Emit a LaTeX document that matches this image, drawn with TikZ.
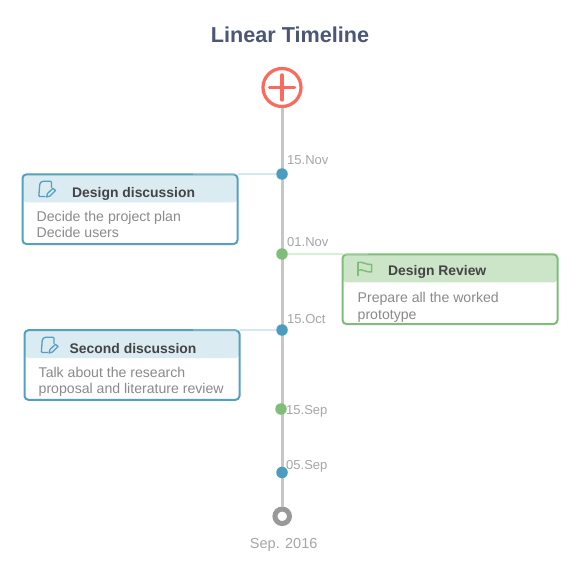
\documentclass[tikz,border=0pt]{standalone}
\usepackage{fontspec}
\setmainfont{Liberation Sans}
\definecolor{bluec}{HTML}{53A1C0}
\definecolor{bluedot}{HTML}{4A9DBE}
\definecolor{bluehead}{HTML}{DAEBF2}
\definecolor{blueline}{HTML}{D5E8F0}
\definecolor{greenc}{HTML}{7FBE78}
\definecolor{greenhead}{HTML}{CCE5C8}
\definecolor{greenline}{HTML}{D8EED6}
\definecolor{titlec}{HTML}{4C5778}
\definecolor{axisc}{HTML}{C6C6C6}
\definecolor{datec}{HTML}{A6A6A6}
\definecolor{bodyc}{HTML}{8A8A8A}
\definecolor{headc}{HTML}{444444}
\definecolor{redc}{HTML}{FB6A5E}
\definecolor{ringc}{HTML}{999999}
\tikzset{
  x=1pt,y=-1pt,
  dot/.style={circle,inner sep=0pt,minimum size=11.5pt,fill=#1},
  datelab/.style={anchor=base west,font=\fontsize{13}{15}\selectfont,text=datec,inner sep=0pt},
  cardbox/.style 2 args={draw=#1,line width=2pt,rounded corners=4pt,fill=white,inner sep=0pt,outer sep=0pt,
    minimum width=215pt,minimum height=69.7pt,
    path picture={\fill[#2] (path picture bounding box.north west) rectangle ([yshift=-28pt]path picture bounding box.north east);}},
  headlab/.style={anchor=base west,font=\fontsize{13.9}{16}\selectfont\bfseries,text=headc,inner sep=0pt},
  bodylab/.style={anchor=base west,font=\fontsize{14.1}{16}\selectfont,text=bodyc,inner sep=0pt,align=left},
  iconline/.style={draw=#1,line width=1.3pt,line join=round,line cap=round,fill=none},
}
\begin{document}
\begin{tikzpicture}
\useasboundingbox (0,0) rectangle (580,580);
\fill[white] (0,0) rectangle (580,580);
% title
\node[anchor=base,inner sep=0pt,font=\fontsize{21.6}{26}\selectfont\bfseries,text=titlec] (title) at (290,43) {Linear Timeline};
% end markers
\node[circle,draw=redc,line width=3.2pt,inner sep=0pt,minimum size=38pt] (start) at (282,87.5) {};
\node[circle,draw=ringc,line width=5pt,fill=white,inner sep=0pt,minimum size=14.5pt] (end) at (282.2,516.3) {};
\draw[redc,line width=3.4pt,line cap=round] ([xshift=-12.5pt]start.center) -- ([xshift=12.5pt]start.center);
\draw[redc,line width=3.4pt,line cap=round] ([yshift=-12.5pt]start.center) -- ([yshift=12.5pt]start.center);
\draw[axisc,line width=3pt] (start.south) -- (start.south |- end.north);
% cards
\node[cardbox={bluec}{bluehead}] (c1) at (130,209.2) {};
\node[cardbox={greenc}{greenhead}] (c2) at (450,289.2) {};
\node[cardbox={bluec}{bluehead}] (c3) at (132,365) {};
% dots
\node[dot=bluedot] (d1) at (282,174) {};
\node[dot=greenc] (d2) at (282,254) {};
\node[dot=bluedot] (d3) at (282,330) {};
\node[dot=greenc] (d4) at (281,409) {};
\node[dot=bluedot] (d5) at (282,472.5) {};
% connectors
\draw[blueline,line width=2.8pt] (d1) -- (d1 -| c1.east);
\draw[greenline,line width=2.8pt] (d2) -- (d2 -| c2.west);
\draw[blueline,line width=2.8pt] (d3) -- (d3 -| c3.east);
\coordinate (o1) at (193,174.3);
\coordinate (o2) at (368,254.3);
\coordinate (o3) at (193,330.3);
\draw[white,opacity=.2,line width=2pt] (c1.east |- o1) -- (o1);
\draw[white,opacity=.2,line width=2pt] (c2.west |- o2) -- (o2);
\draw[white,opacity=.2,line width=2pt] (c3.east |- o3) -- (o3);
% date labels
\node[datelab] (l1) at (287,164.5) {15.Nov};
\node[datelab] (l2) at (287,246) {01.Nov};
\node[datelab] (l3) at (287,323) {15.Oct};
\node[datelab] (l4) at (286,414) {15.Sep};
\node[datelab] (l5) at (286,469) {05.Sep};
\node[anchor=base,inner sep=0pt,font=\fontsize{14.5}{16}\selectfont,text=datec] (endlab) at (283.7,548) {Sep. 2016};
% card 1 text
\node[headlab] (h1) at (72,197.3) {Design discussion};
\node[bodylab] (b1a) at (36.5,221) {Decide the project plan};
\node[bodylab] (b1b) at (36.5,237) {Decide users};
% card 2 text
\node[headlab] (h2) at (388,275.8) {Design Review};
\node[bodylab] (b2a) at (357.5,302.5) {Prepare all the worked};
\node[bodylab] (b2b) at (357.5,319) {prototype};
% card 3 text
\node[headlab] (h3) at (69.5,353.3) {Second discussion};
\node[bodylab] (b3a) at (38.5,377) {Talk about the research};
\node[bodylab] (b3b) at (38.5,393) {proposal and literature review};
% note icons
\foreach \ox/\oy in {38/180.5,40.5/336.5}{
  \begin{scope}[shift={(\ox,\oy)}]
    \draw[iconline=bluec,rounded corners=1pt] (7,16) -- (0.8,16) -- (1.8,3) -- (4,0.8) -- (13.5,0.8) -- (13.5,7);
    \draw[iconline=bluec] (8.5,16.5) -- (9.5,13) -- (15,7.8) -- (17.5,10) -- (12,15.5) -- cycle;
  \end{scope}
}
% flag icon
\begin{scope}[shift={(358,261.5)}]
  \draw[iconline=greenc,line width=1.5pt] (0,14) -- (0,1);
  \draw[iconline=greenc,line width=1.5pt] (0,1) .. controls (4,-0.5) and (8,3.5) .. (13.5,3) -- (13.5,10.5) .. controls (8,11) and (4,7) .. (0,8.8);
\end{scope}
\end{tikzpicture}
\end{document}
